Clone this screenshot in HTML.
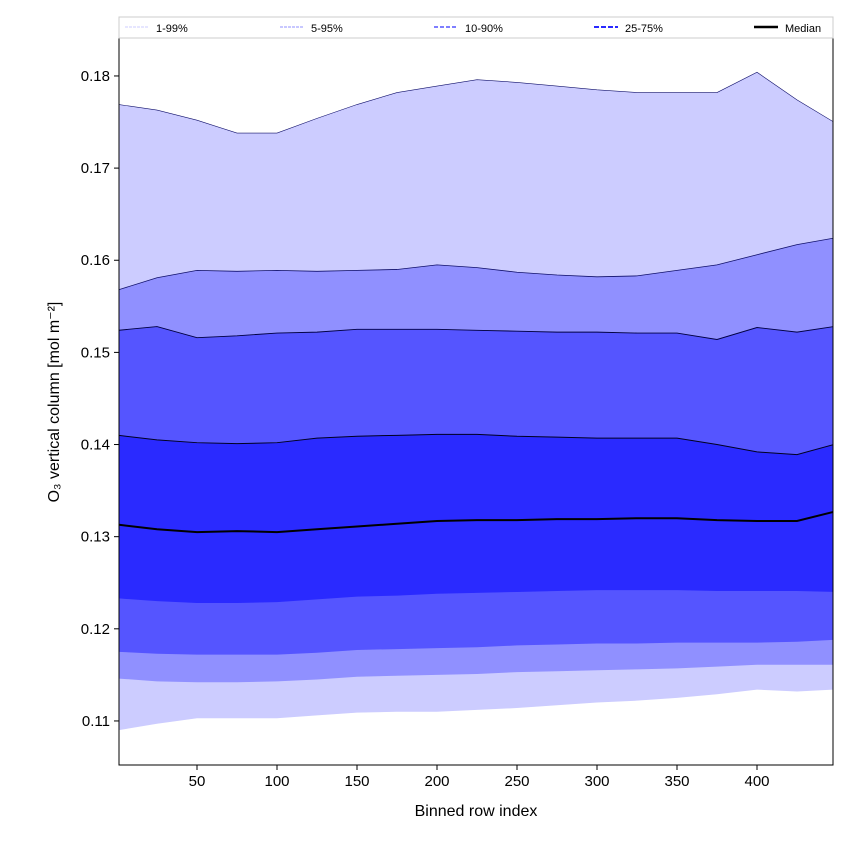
<!DOCTYPE html>
<html><head><meta charset="utf-8"><style>
body{margin:0;background:#fff;font-family:"Liberation Sans","DejaVu Sans",sans-serif}
</style></head><body>
<svg id="c" width="850" height="850" xmlns="http://www.w3.org/2000/svg"></svg>
<script>
const xs=[1,25,50,75,100,125,150,175,200,225,250,275,300,325,350,375,400,425,448];
const p99=[0.1769,0.1763,0.1752,0.1738,0.1738,0.1754,0.1769,0.1782,0.1789,0.1796,0.1793,0.1789,0.1785,0.1782,0.1782,0.1782,0.1804,0.1774,0.1750];
const p95=[0.1568,0.1581,0.1589,0.1588,0.1589,0.1588,0.1589,0.1590,0.1595,0.1592,0.1587,0.1584,0.1582,0.1583,0.1589,0.1595,0.1606,0.1617,0.1624];
const p90=[0.1524,0.1528,0.1516,0.1518,0.1521,0.1522,0.1525,0.1525,0.1525,0.1524,0.1523,0.1522,0.1522,0.1521,0.1521,0.1514,0.1527,0.1522,0.1528];
const p75=[0.1410,0.1405,0.1402,0.1401,0.1402,0.1407,0.1409,0.1410,0.1411,0.1411,0.1409,0.1408,0.1407,0.1407,0.1407,0.1400,0.1392,0.1389,0.1400];
const p50=[0.1313,0.1308,0.1305,0.1306,0.1305,0.1308,0.1311,0.1314,0.1317,0.1318,0.1318,0.1319,0.1319,0.1320,0.1320,0.1318,0.1317,0.1317,0.1327];
const p25=[0.1233,0.1230,0.1228,0.1228,0.1229,0.1232,0.1235,0.1236,0.1238,0.1239,0.1240,0.1241,0.1242,0.1242,0.1242,0.1241,0.1241,0.1241,0.1240];
const p10=[0.1175,0.1173,0.1172,0.1172,0.1172,0.1174,0.1177,0.1178,0.1179,0.1180,0.1182,0.1183,0.1184,0.1184,0.1185,0.1185,0.1185,0.1186,0.1188];
const p5=[0.1146,0.1143,0.1142,0.1142,0.1143,0.1145,0.1148,0.1149,0.1150,0.1151,0.1153,0.1154,0.1155,0.1156,0.1157,0.1159,0.1161,0.1161,0.1161];
const p1=[0.1090,0.1097,0.1103,0.1103,0.1103,0.1106,0.1109,0.1110,0.1110,0.1112,0.1114,0.1117,0.1120,0.1122,0.1125,0.1129,0.1134,0.1132,0.1134];
const xTicks=[50,100,150,200,250,300,350,400];
const yTicks=[0.11,0.12,0.13,0.14,0.15,0.16,0.17,0.18];
const L=119,R=833,T=38,B=765,X0=1.25,X1=447.5,Y0=0.10522,Y1=0.18412;
const sx=v=>L+(v-X0)/(X1-X0)*(R-L), sy=v=>B-(v-Y0)/(Y1-Y0)*(B-T);
const svg=document.getElementById('c');const NS='http://www.w3.org/2000/svg';
function mk(t,a,p){const e=document.createElementNS(NS,t);for(const k in a)e.setAttribute(k,a[k]);(p||svg).appendChild(e);return e;}
const clip=mk('clipPath',{id:'cp'});mk('rect',{x:L,y:T,width:R-L,height:B-T},clip);
const g=mk('g',{'clip-path':'url(#cp)'});
function band(lo,hi,col,name){const pts=xs.map((x,i)=>sx(x)+','+sy(hi[i])).concat(xs.map((x,i)=>sx(x)+','+sy(lo[i])).reverse());
const e=mk('polygon',{points:pts.join(' '),fill:col},g);}
function line(a,col,w,name){const e=mk('polyline',{points:xs.map((x,i)=>sx(x)+','+sy(a[i])).join(' '),fill:'none',stroke:col,'stroke-width':w},g);}
band(p1,p99,'#ccccff','band-1-99');band(p5,p95,'#9090ff','band-5-95');band(p10,p90,'#5555ff','band-10-90');band(p25,p75,'#2a2aff','band-25-75');
line(p99,'#10106a',0.6,'line-p99');line(p95,'#10106a',0.8,'line-p95');line(p90,'#000040',0.9,'line-p90');line(p75,'#000020',1,'line-p75');line(p50,'#000',2,'median-line');
const fr=mk('rect',{x:L,y:T,width:R-L,height:B-T,fill:'none',stroke:'#000','stroke-width':1});
xTicks.forEach(v=>{const x=sx(v);mk('line',{x1:x,x2:x,y1:B,y2:B+5,stroke:'#000'});const t=mk('text',{x:x,y:B+21,'text-anchor':'middle','font-size':15});t.textContent=v;});
yTicks.forEach(v=>{const y=sy(v);mk('line',{x1:L-5,x2:L,y1:y,y2:y,stroke:'#000'});const t=mk('text',{x:L-9,y:y+5,'text-anchor':'end','font-size':15});t.textContent=v.toFixed(2);});
const xl=mk('text',{x:(L+R)/2,y:816,'text-anchor':'middle','font-size':16});xl.textContent='Binned row index';
const yl=mk('text',{x:0,y:0,'text-anchor':'middle','font-size':16,transform:'translate(59,402) rotate(-90)'});yl.textContent='O₃ vertical column [mol m⁻²]';
const lg=mk('g',{});
mk('rect',{x:119,y:17,width:714,height:21,fill:'#fff',stroke:'#ccc'},lg);
const legNames=['1-99%','5-95%','10-90%','25-75%','Median'];
const legStyle=[['#ccccff',1,'3,1'],['#9090ff',1,'3,1'],['#5555ff',1.5,'4,2'],['#2a2aff',2,'5,2'],['#000',2.5,'']];
const legX=[125,280,434,594,754];
legNames.forEach((n,i)=>{const s=legStyle[i];const a={x1:legX[i],x2:legX[i]+24,y1:27,y2:27,stroke:s[0],'stroke-width':s[1]};if(s[2])a['stroke-dasharray']=s[2];mk('line',a,lg);
const t=mk('text',{x:legX[i]+31,y:32,'font-size':11},lg);t.textContent=n;});
</script>
</body></html>
